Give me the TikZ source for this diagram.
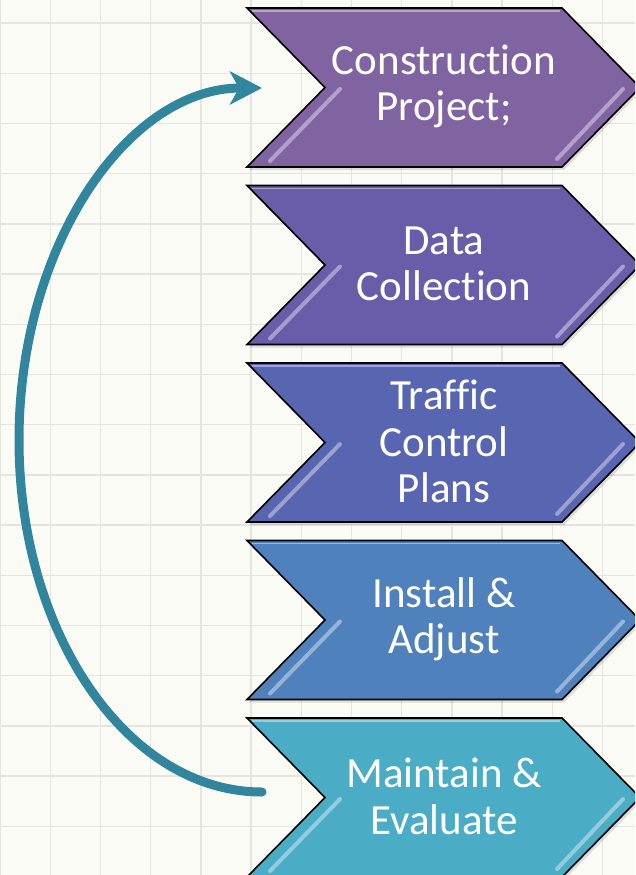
\documentclass[tikz,border=0pt]{standalone}
\usepackage{fontspec}
\setmainfont{Carlito}[Ligatures=NoCommon]
\usetikzlibrary{arrows.meta}
\definecolor{bgc}{HTML}{FBFBF6}
\definecolor{gridc}{HTML}{E5E5E0}
\definecolor{arrowc}{HTML}{31869D}
\definecolor{cA}{HTML}{8064A2}
\definecolor{cB}{HTML}{695DA9}
\definecolor{cC}{HTML}{5865B1}
\definecolor{cD}{HTML}{4F82BC}
\definecolor{cE}{HTML}{4BACC6}
\tikzset{
  chevtext/.style={text=white, align=center, inner sep=0pt, font=\fontsize{43}{46.5}\selectfont},
  chevbody/.style={draw=black, line width=1.6pt, line join=miter},
  loop arrow/.style={draw=arrowc, line width=9pt, line cap=round, -{Stealth[length=32pt,width=33pt,inset=9pt]}}
}
\newcommand\mychev[4]{%
  \fill[black, opacity=0.12] (249,#1+3) -- (564,#1+3) -- (642,#1+82.5) -- (564,#1+162) -- (249,#1+162) -- (327,#1+82.5) -- cycle;
  \filldraw[chevbody, fill=#2] (247,#1) -- (562,#1) -- (640,#1+79.5) -- (562,#1+159) -- (247,#1+159) -- (325,#1+79.5) -- cycle;
  \draw[#2!30!white, line width=1.2pt, opacity=0.6] (252,#1+3) -- (560,#1+3);
  \draw[#2!50!white, line width=4pt, line cap=round, opacity=0.8] (340,#1+81) -- (270,#1+153);
  \draw[#2!50!white, line width=4pt, line cap=round, opacity=0.8] (623,#1+81) -- (557,#1+151);
  \node[chevtext] (#3) at (444,#1+78.5) {#4};
}
\begin{document}
\begin{tikzpicture}[x=1pt,y=-1pt]
\useasboundingbox (0,0) rectangle (635,875);
\clip (0,0) rectangle (635,875);
\fill[bgc] (0,0) rectangle (635,875);
\foreach \i in {0,...,13} \draw[gridc, line width=1.4pt] ({\i*50.2},0) -- ({\i*50.2},875);
\foreach \j in {0,...,17} \draw[gridc, line width=1.4pt] (0,{23+\j*50.2}) -- (635,{23+\j*50.2});
\mychev{8}{cA}{construction}{Construction\\Project;}
\mychev{185.5}{cB}{data}{Data\\Collection}
\mychev{363}{cC}{traffic}{Traffic\\Control\\Plans}
\mychev{540.5}{cD}{install}{Install \&\\Adjust}
\mychev{718}{cE}{maintain}{Maintain \&\\Evaluate}
\coordinate (loopstart) at (262,792);
\coordinate (loopend) at (262,88);
\draw[loop arrow] (loopstart) arc[start angle=90, end angle=270, x radius=243, y radius=352];
\end{tikzpicture}
\end{document}
